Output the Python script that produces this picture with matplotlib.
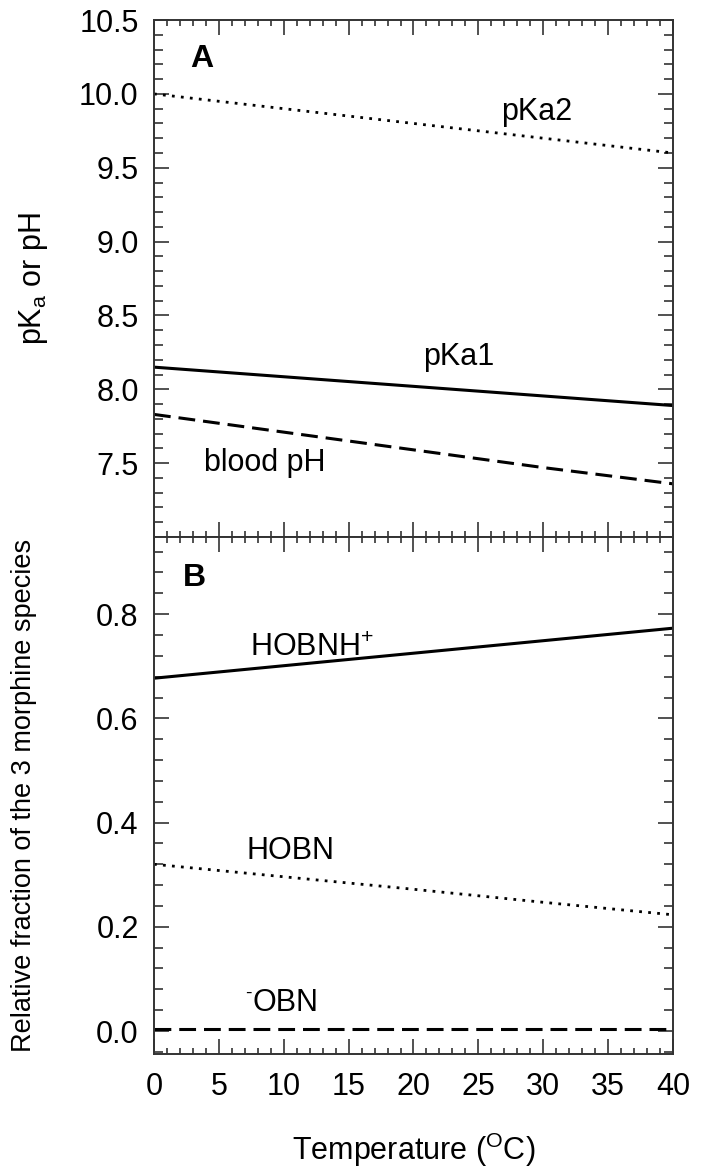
import numpy as np
import matplotlib
matplotlib.use("Agg")
import matplotlib.pyplot as plt
from matplotlib.ticker import MultipleLocator

plt.rcParams['font.family'] = ['Liberation Sans', 'DejaVu Sans']
plt.rcParams['mathtext.fontset'] = 'custom'
plt.rcParams['mathtext.rm'] = 'Liberation Sans'
plt.rcParams['mathtext.it'] = 'Liberation Sans:italic'
plt.rcParams['mathtext.bf'] = 'Liberation Sans:bold'

# 데이터
temp = [0, 10, 20, 30, 40]
pka2 = [10.0, 9.9, 9.8, 9.7, 9.6]
pka1 = [8.15, 8.085, 8.02, 7.955, 7.89]
blood_ph = [7.83, 7.71, 7.59, 7.47, 7.36]
hobnh = [0.677, 0.701, 0.725, 0.749, 0.773]
hobn = [0.320, 0.296, 0.272, 0.247, 0.223]
obn = [0.003, 0.003, 0.003, 0.003, 0.003]

fs = 22
dotted = (0, (1, 2.25))
dashed = (0, (5.5, 2.6))

fig = plt.figure(figsize=(7.07, 11.73), dpi=100)
ax1 = fig.add_axes([0.2178, 0.5422, 0.7341, 0.4407])
ax2 = fig.add_axes([0.2178, 0.1015, 0.7341, 0.4407])

# A 패널
ax1.plot(temp, pka2, color='black', lw=2.0, linestyle=dotted)
ax1.plot(temp, pka1, color='black', lw=2.2, solid_capstyle='butt')
ax1.plot(temp, blood_ph, color='black', lw=2.2, linestyle=dashed, dash_capstyle='butt')
ax1.set_xlim(0, 40)
ax1.set_ylim(7.0, 10.5)
ax1.yaxis.set_minor_locator(MultipleLocator(0.1))
ax1.set_yticks([7.5, 8.0, 8.5, 9.0, 9.5, 10.0, 10.5])
ax1.set_yticklabels(['7.5', '8.0', '8.5', '9.0', '9.5', '10.0', '10.5'])
ax1.set_ylabel(r'pK$_\mathrm{a}$ or pH', fontsize=fs)
ax1.yaxis.set_label_coords(-0.2, 0.5)
ax1.text(0.07, 0.925, 'A', transform=ax1.transAxes, fontsize=fs + 1, fontweight='bold', va='center')
ax1.text(29.5, 9.88, 'pKa2', fontsize=fs, ha='center', va='center')
ax1.text(23.5, 8.22, 'pKa1', fontsize=fs, ha='center', va='center')
ax1.text(8.5, 7.5, 'blood pH', fontsize=fs, ha='center', va='center')

# B 패널
ax2.plot(temp, hobnh, color='black', lw=2.2, solid_capstyle='butt')
ax2.plot(temp, hobn, color='black', lw=2.0, linestyle=dotted)
ax2.plot(temp, obn, color='black', lw=2.2, linestyle=dashed, dash_capstyle='butt')
ax2.set_xlim(0, 40)
ax2.set_ylim(-0.044, 0.948)
ax2.yaxis.set_minor_locator(MultipleLocator(0.04))
ax2.set_yticks([0.0, 0.2, 0.4, 0.6, 0.8])
ax2.set_ylabel('Relative fraction of the 3 morphine species', fontsize=19.5)
ax2.yaxis.set_label_coords(-0.225, 0.5)
ax2.set_xlabel(r'Temperature ($^{\mathrm{O}}$C)', fontsize=fs, labelpad=21)
ax2.text(0.055, 0.92, 'B', transform=ax2.transAxes, fontsize=fs + 1, fontweight='bold', va='center')
ax2.text(12.2, 0.735, r'HOBNH$^{+}$', fontsize=fs, ha='center', va='center')
ax2.text(10.5, 0.345, 'HOBN', fontsize=fs, ha='center', va='center')
ax2.text(7.6, 0.054, 'OBN', fontsize=fs, ha='left', va='center')
ax2.annotate('-', xy=(7.6, 0.054), xytext=(-0.5, 7), textcoords='offset points',
             fontsize=14, ha='right', va='center')

for ax in (ax1, ax2):
    ax.xaxis.set_major_locator(MultipleLocator(5))
    ax.xaxis.set_minor_locator(MultipleLocator(1))
    ax.tick_params(axis='both', which='both', direction='in', top=True, right=True,
                   color='#333333', width=1.2)
    ax.tick_params(axis='both', which='major', length=11, labelsize=fs, pad=11)
    ax.tick_params(axis='x', which='minor', length=4)
    ax.tick_params(axis='y', which='minor', length=6.5)
    for s in ax.spines.values():
        s.set_linewidth(1.4)
        s.set_color('#333333')

ax1.tick_params(axis='x', labelbottom=False)
ax2.tick_params(axis='x', which='major', pad=13)

fig.savefig('out.png', dpi=100)
